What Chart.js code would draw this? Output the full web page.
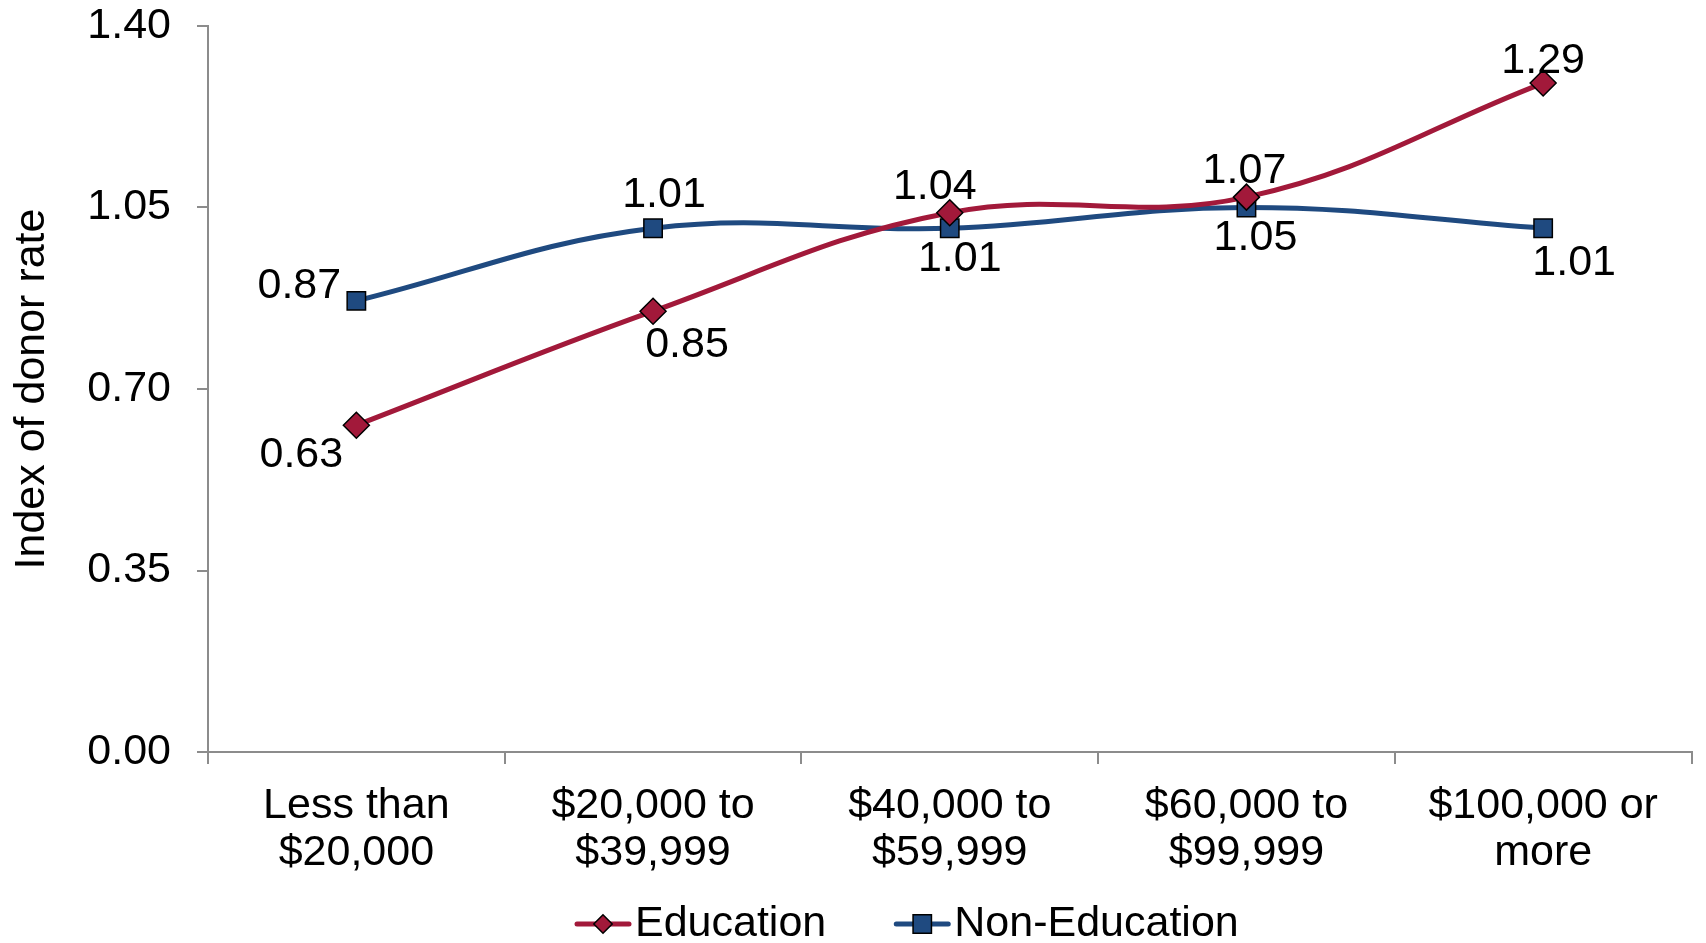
<!DOCTYPE html>
<html>
<head>
<meta charset="utf-8">
<script src="https://cdn.jsdelivr.net/npm/chart.js@4/dist/chart.umd.min.js"></script>
<style>
  html, body { margin: 0; padding: 0; background: #fff; }
  #wrap { width: 1706px; height: 943px; }
</style>
</head>
<body>
<div id="wrap"><canvas id="js--chart"></canvas></div>
<script>
const categories = [
  ['Less than', '$20,000'],
  ['$20,000 to', '$39,999'],
  ['$40,000 to', '$59,999'],
  ['$60,000 to', '$99,999'],
  ['$100,000 or', 'more']
];
const educationValues = [0.63, 0.85, 1.04, 1.07, 1.29];
const nonEducationValues = [0.87, 1.01, 1.01, 1.05, 1.01];
const yTicks = [0, 0.35, 0.70, 1.05, 1.40];

// where each value label sits relative to its point (dx, dy)
const eduLabelPos = [[-55, 30], [34, 34], [-15, -26], [-2, -26], [0, -22]];
const nonEduLabelPos = [[-57, -15], [11, -33], [10, 31], [9, 31], [31, 35]];

const red = '#A2193A';
const blue = '#1F4A80';
const axisGrey = '#8c8c8c';
const font = 'Liberation Sans, Arial, sans-serif';
const fsize = 43;

const valueLabels = {
  id: 'valueLabels',
  afterDatasetsDraw(chart) {
    const ctx = chart.ctx;
    ctx.save();
    ctx.font = fsize + 'px ' + font;
    ctx.fillStyle = '#000';
    ctx.textAlign = 'center';
    ctx.textBaseline = 'middle';
    chart.data.datasets.forEach(function (ds, i) {
      const meta = chart.getDatasetMeta(i);
      meta.data.forEach(function (pt, j) {
        const off = ds.labelPos[j];
        ctx.fillText(ds.data[j].toFixed(2), pt.x + off[0], pt.y + off[1]);
      });
    });
    ctx.restore();
  }
};

const bottomLegend = {
  id: 'bottomLegend',
  afterDraw(chart) {
    const ctx = chart.ctx;
    const y = 924;
    let x = 577;
    ctx.save();
    ctx.font = fsize + 'px ' + font;
    ctx.textBaseline = 'middle';
    chart.data.datasets.forEach(function (ds) {
      ctx.strokeStyle = ds.borderColor;
      ctx.lineWidth = 5;
      ctx.lineCap = 'round';
      ctx.beginPath();
      ctx.moveTo(x, y);
      ctx.lineTo(x + 52, y);
      ctx.stroke();
      ctx.fillStyle = ds.pointBackgroundColor;
      ctx.strokeStyle = '#000';
      ctx.lineWidth = 1.5;
      ctx.beginPath();
      const s = Math.SQRT1_2 * ds.pointRadius;
      if (ds.pointStyle === 'rect') {
        ctx.rect(x + 26 - s, y - s, 2 * s, 2 * s);
      } else {
        ctx.moveTo(x + 26 - s, y);
        ctx.lineTo(x + 26, y + s);
        ctx.lineTo(x + 26 + s, y);
        ctx.lineTo(x + 26, y - s);
        ctx.closePath();
      }
      ctx.fill();
      ctx.stroke();
      ctx.fillStyle = '#000';
      ctx.fillText(ds.label, x + 58, y);
      x += 58 + ctx.measureText(ds.label).width + 70;
    });
    ctx.restore();
  }
};

const config = {
  type: 'line',
  data: {
    labels: categories,
    datasets: [
      {
        label: 'Education',
        data: educationValues,
        labelPos: eduLabelPos,
        borderColor: red,
        backgroundColor: red,
        pointBackgroundColor: red,
        pointBorderColor: '#000',
        pointBorderWidth: 1.5,
        pointStyle: 'rectRot',
        pointRadius: 13,
        borderWidth: 5,
        tension: 0.4
      },
      {
        label: 'Non-Education',
        data: nonEducationValues,
        labelPos: nonEduLabelPos,
        borderColor: blue,
        backgroundColor: blue,
        pointBackgroundColor: blue,
        pointBorderColor: '#000',
        pointBorderWidth: 1.5,
        pointStyle: 'rect',
        pointRadius: 13,
        borderWidth: 5,
        tension: 0.4
      }
    ]
  },
  options: {
    responsive: true,
    maintainAspectRatio: false,
    animation: false,
    layout: { padding: { top: 0, right: 4, bottom: 60, left: 0 } },
    plugins: {
      legend: { display: false },
      tooltip: { enabled: false }
    },
    scales: {
      x: {
        offset: true,
        grid: {
          offset: true,
          drawOnChartArea: false,
          color: axisGrey,
          tickLength: 12,
          lineWidth: 2
        },
        border: { color: axisGrey, width: 2 },
        ticks: {
          color: '#000',
          font: { family: font, size: fsize, lineHeight: 1.1 },
          padding: 18,
          maxRotation: 0,
          autoSkip: false
        },
        afterFit(scale) { scale.height = 131; }
      },
      y: {
        min: 0,
        max: 1.4,
        afterBuildTicks(scale) {
          scale.ticks = yTicks.map(function (v) { return { value: v }; });
        },
        grid: {
          drawOnChartArea: false,
          color: axisGrey,
          tickLength: 11,
          lineWidth: 2
        },
        border: { color: axisGrey, width: 2 },
        ticks: {
          color: '#000',
          font: { family: font, size: fsize, lineHeight: 1.2 },
          padding: 26,
          callback: function (v) { return Number(v).toFixed(2); }
        },
        title: {
          display: true,
          text: 'Index of donor rate',
          color: '#000',
          font: { family: font, size: fsize, lineHeight: 1.2 },
          padding: { top: 6, bottom: 0 }
        },
        afterFit(scale) {
          scale.width = 208;
          scale.paddingTop = 26;
          scale.paddingBottom = 0;
        }
      }
    }
  },
  plugins: [valueLabels, bottomLegend]
};

const chart1 = new Chart(document.getElementById('js--chart'), config);
</script>
</body>
</html>
